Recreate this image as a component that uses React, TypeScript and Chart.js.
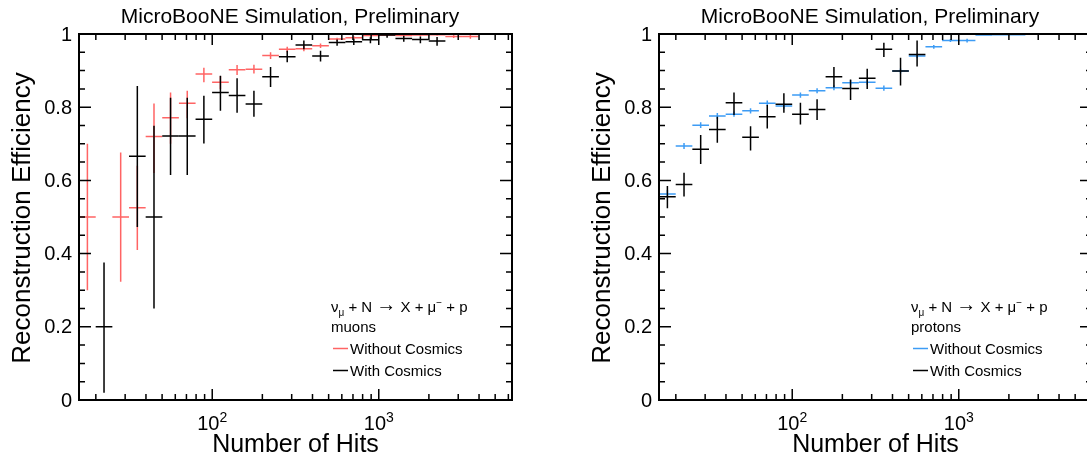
import React, { useEffect, useRef } from 'react';
import { Chart, registerables } from 'chart.js';

Chart.register(...registerables);

const FONT = '"Liberation Sans", Arial, Helvetica, sans-serif';

// Bin centres in number of hits (logarithmic bins, 0.1 decade wide)
const hitBins = [
  17.8, 22.4, 28.2, 35.5, 44.7, 56.2, 70.8, 89.1, 112, 141, 178, 224, 282,
  355, 447, 562, 708, 891, 1122, 1413, 1778, 2239, 2818, 3548, 4467, 5623,
];

// Muons, without cosmics
const muonEffNoCosmics = [
  0.5, null, 0.5, 0.525, 0.72, 0.771, 0.811, 0.891, 0.868, 0.902, 0.904, 0.941, 0.958,
  0.96, 0.968, 0.986, 0.99, 0.996, 0.997, 0.996, 0.997, 0.998, 0.993, 0.993, null, null,
];
const muonLoNoCosmics = [
  0.3, null, 0.323, 0.41, 0.62, 0.7, 0.77, 0.868, 0.85, 0.888, 0.892, 0.932, 0.95,
  0.953, 0.962, 0.981, 0.986, 0.993, 0.994, 0.993, 0.994, 0.995, 0.989, 0.987, null, null,
];
const muonHiNoCosmics = [
  0.7, null, 0.676, 0.64, 0.81, 0.84, 0.845, 0.908, 0.885, 0.915, 0.916, 0.95, 0.965,
  0.967, 0.974, 0.99, 0.994, 0.998, 0.999, 0.998, 0.999, 1.0, 0.997, 0.997, null, null,
];

// Muons, with cosmics
const muonEffWithCosmics = [
  null, 0.2, null, 0.666, 0.5, 0.721, 0.721, 0.767, 0.84, 0.832, 0.809, 0.883, 0.938,
  0.97, 0.94, 0.977, 0.979, 0.984, 0.997, 0.988, 0.985, 0.981, 1.0, 1.0, 1.0, 1.0,
];
const muonLoWithCosmics = [
  null, 0.02, null, 0.473, 0.25, 0.615, 0.615, 0.701, 0.79, 0.785, 0.774, 0.855, 0.923,
  0.958, 0.925, 0.968, 0.97, 0.975, 0.99, 0.979, 0.975, 0.968, 1.0, 1.0, 1.0, 1.0,
];
const muonHiWithCosmics = [
  null, 0.376, null, 0.858, 0.749, 0.826, 0.826, 0.831, 0.886, 0.879, 0.845, 0.91, 0.954,
  0.982, 0.954, 0.985, 0.987, 0.991, 1.0, 0.995, 0.993, 0.992, 1.0, 1.0, 1.0, 1.0,
];

// Protons, without cosmics
const protonEffNoCosmics = [
  0.563, 0.694, 0.751, 0.776, 0.781, 0.79, 0.811, 0.803, 0.833, 0.845, 0.853, 0.867, 0.868,
  0.852, 0.899, 0.94, 0.965, 0.982, 0.982, 0.997, 0.998, 0.998, null, null, null, null,
];
const protonLoNoCosmics = [
  0.552, 0.686, 0.743, 0.768, 0.774, 0.783, 0.804, 0.796, 0.826, 0.838, 0.846, 0.86, 0.861,
  0.845, 0.892, 0.934, 0.96, 0.978, 0.977, 0.995, 0.996, 0.996, null, null, null, null,
];
const protonHiNoCosmics = [
  0.574, 0.702, 0.759, 0.784, 0.788, 0.797, 0.818, 0.81, 0.84, 0.852, 0.86, 0.874, 0.875,
  0.859, 0.906, 0.946, 0.97, 0.986, 0.987, 0.999, 1.0, 1.0, null, null, null, null,
];

// Protons, with cosmics
const protonEffWithCosmics = [
  0.555, 0.589, 0.685, 0.739, 0.812, 0.718, 0.774, 0.808, 0.781, 0.794, 0.883, 0.851, 0.879,
  0.958, 0.899, 0.944, 1.0, 1.0, 1.0, 1.0, null, null, null, null, null, null,
];
const protonLoWithCosmics = [
  0.524, 0.556, 0.645, 0.703, 0.779, 0.682, 0.742, 0.785, 0.753, 0.765, 0.854, 0.82, 0.85,
  0.937, 0.859, 0.911, 1.0, 1.0, 1.0, 1.0, null, null, null, null, null, null,
];
const protonHiWithCosmics = [
  0.585, 0.621, 0.724, 0.774, 0.84, 0.748, 0.806, 0.838, 0.812, 0.822, 0.91, 0.876, 0.905,
  0.976, 0.935, 0.982, 1.0, 1.0, 1.0, 1.0, null, null, null, null, null, null,
];

// Axis ticks and labels
const yMajorTicks = [0, 0.2, 0.4, 0.6, 0.8, 1];
const yTickLabels = ['0', '0.2', '0.4', '0.6', '0.8', '1'];
const xMajorTicks = [100, 1000];
const xTickExponents = ['2', '3'];

const TITLE = 'MicroBooNE Simulation, Preliminary';
const X_TITLE = 'Number of Hits';
const Y_TITLE = 'Reconstruction Efficiency';
const LABEL_NO = 'Without Cosmics';
const LABEL_WITH = 'With Cosmics';

const X_MIN = Math.pow(10, 1.2);
const X_MAX = Math.pow(10, 3.8);
const BIN_HALF = Math.pow(10, 0.05);

const RED = '#ff6464';
const BLUE = '#3d9cf5';
const BLACK = '#000000';

type Series = (number | null)[];

function buildPoints(eff: Series, lo: Series, hi: Series) {
  const pts: any[] = [];
  hitBins.forEach((x, i) => {
    const y = eff[i];
    if (y == null) return;
    pts.push({ x, y, yMin: lo[i] ?? y, yMax: hi[i] ?? y });
  });
  return pts;
}

type PanelSpec = {
  particle: string;
  colorNo: string;
  effNo: Series; loNo: Series; hiNo: Series;
  effWith: Series; loWith: Series; hiWith: Series;
};

// ν_μ + N → X + μ⁻ + p, with sub/superscripts
function drawReaction(ctx: CanvasRenderingContext2D, x: number, y: number) {
  const big = `15px ${FONT}`;
  const small = `10px ${FONT}`;
  const arrow = `20px ${FONT}`;
  const parts: [string, string, number][] = [
    ['ν', big, 0],
    ['μ', small, 4],
    [' + N ', big, 0],
    ['→', arrow, -1],
    [' X + μ', big, 0],
    ['−', small, -6],
    [' + p', big, 0],
  ];
  let cx = x;
  parts.forEach(([t, f, dy]) => {
    ctx.font = f;
    ctx.fillText(t, cx, y + dy);
    cx += ctx.measureText(t).width;
  });
}

function rootStylePlugin(spec: PanelSpec) {
  return {
    id: 'rootStyle',
    afterDatasetsDraw(chart: any) {
      const ctx: CanvasRenderingContext2D = chart.ctx;
      const { left, right, top, bottom } = chart.chartArea;
      const xs = chart.scales.x;
      const ys = chart.scales.y;

      // error bars: horizontal across the bin, vertical for the efficiency interval
      chart.data.datasets.forEach((ds: any) => {
        ctx.save();
        ctx.strokeStyle = ds.borderColor;
        ctx.lineWidth = 1.5;
        ds.data.forEach((p: any) => {
          const cx = xs.getPixelForValue(p.x);
          const x0 = xs.getPixelForValue(p.x / BIN_HALF);
          const x1 = xs.getPixelForValue(p.x * BIN_HALF);
          const cy = ys.getPixelForValue(p.y);
          ctx.beginPath();
          ctx.moveTo(x0, cy);
          ctx.lineTo(x1, cy);
          ctx.moveTo(cx, ys.getPixelForValue(p.yMin));
          ctx.lineTo(cx, ys.getPixelForValue(p.yMax));
          ctx.stroke();
        });
        ctx.restore();
      });

      ctx.save();
      ctx.strokeStyle = BLACK;
      ctx.fillStyle = BLACK;

      // frame
      ctx.lineWidth = 2;
      ctx.strokeRect(left, top, right - left, bottom - top);

      // y ticks, left and right
      ctx.lineWidth = 1.5;
      ctx.beginPath();
      for (let k = 0; k <= 20; k++) {
        const v = k * 0.05;
        const py = ys.getPixelForValue(v);
        const len = k % 4 === 0 ? 12 : 6;
        ctx.moveTo(left, py);
        ctx.lineTo(left + len, py);
        ctx.moveTo(right, py);
        ctx.lineTo(right - len, py);
      }
      // x ticks, bottom and top
      for (let d = 10; d <= 1000; d *= 10) {
        for (let m = 1; m <= 9; m++) {
          const v = m * d;
          if (v < X_MIN || v > X_MAX) continue;
          const px = xs.getPixelForValue(v);
          const len = m === 1 ? 11 : 6;
          ctx.moveTo(px, bottom);
          ctx.lineTo(px, bottom - len);
          ctx.moveTo(px, top);
          ctx.lineTo(px, top + len);
        }
      }
      ctx.stroke();

      // y tick labels
      ctx.font = `20px ${FONT}`;
      ctx.textAlign = 'right';
      ctx.textBaseline = 'middle';
      yMajorTicks.forEach((v, i) => {
        ctx.fillText(yTickLabels[i], left - 7, ys.getPixelForValue(v) + 1);
      });

      // x tick labels: 10 with superscript exponent
      ctx.textBaseline = 'alphabetic';
      ctx.textAlign = 'left';
      xMajorTicks.forEach((v, i) => {
        const px = xs.getPixelForValue(v);
        ctx.font = `20px ${FONT}`;
        const wBase = ctx.measureText('10').width;
        ctx.font = `14px ${FONT}`;
        const wExp = ctx.measureText(xTickExponents[i]).width;
        const x0 = px - (wBase + wExp) / 2;
        ctx.font = `20px ${FONT}`;
        ctx.fillText('10', x0, 430);
        ctx.font = `14px ${FONT}`;
        ctx.fillText(xTickExponents[i], x0 + wBase, 422);
      });

      // titles
      ctx.textAlign = 'center';
      ctx.font = `21px ${FONT}`;
      ctx.fillText(TITLE, chart.width / 2, 23);

      ctx.font = `25px ${FONT}`;
      ctx.fillText(X_TITLE, (left + right) / 2, 452);

      ctx.save();
      ctx.translate(30, (top + bottom) / 2 + 1);
      ctx.rotate(-Math.PI / 2);
      ctx.font = `26px ${FONT}`;
      ctx.fillText(Y_TITLE, 0, 0);
      ctx.restore();

      // legend
      const lx = left + 252;
      ctx.textAlign = 'left';
      drawReaction(ctx, lx, 312);
      ctx.font = `15px ${FONT}`;
      ctx.fillText(spec.particle, lx, 332);
      ctx.fillText(LABEL_NO, lx + 19, 354);
      ctx.fillText(LABEL_WITH, lx + 19, 376);
      ctx.lineWidth = 1.5;
      ctx.strokeStyle = spec.colorNo;
      ctx.beginPath();
      ctx.moveTo(lx + 2, 348.5);
      ctx.lineTo(lx + 17, 348.5);
      ctx.stroke();
      ctx.strokeStyle = BLACK;
      ctx.beginPath();
      ctx.moveTo(lx + 2, 370.5);
      ctx.lineTo(lx + 17, 370.5);
      ctx.stroke();

      ctx.restore();
    },
  };
}

function Panel({ spec, offset }: { spec: PanelSpec; offset: number }) {
  const ref = useRef<HTMLCanvasElement>(null);
  useEffect(() => {
    const chart = new Chart(ref.current as HTMLCanvasElement, {
      type: 'scatter',
      data: {
        datasets: [
          {
            label: LABEL_NO,
            data: buildPoints(spec.effNo, spec.loNo, spec.hiNo),
            borderColor: spec.colorNo,
            backgroundColor: spec.colorNo,
            pointRadius: 0,
            showLine: false,
          },
          {
            label: LABEL_WITH,
            data: buildPoints(spec.effWith, spec.loWith, spec.hiWith),
            borderColor: BLACK,
            backgroundColor: BLACK,
            pointRadius: 0,
            showLine: false,
          },
        ],
      },
      options: {
        animation: false,
        responsive: false,
        maintainAspectRatio: false,
        devicePixelRatio: 1,
        layout: { padding: { left: 79, right: 68, top: 34, bottom: 61 } },
        scales: {
          x: { type: 'logarithmic', min: X_MIN, max: X_MAX, bounds: 'data', display: false },
          y: { type: 'linear', min: 0, max: 1, bounds: 'data', display: false },
        },
        plugins: { legend: { display: false }, tooltip: { enabled: false } },
        events: [],
      },
      plugins: [rootStylePlugin(spec)],
    } as any);
    return () => chart.destroy();
  }, [spec]);
  return (
    <canvas
      ref={ref}
      width={580}
      height={461}
      style={{ position: 'absolute', left: offset, top: 0, width: 580, height: 461 }}
    />
  );
}

const muonSpec: PanelSpec = {
  particle: 'muons',
  colorNo: RED,
  effNo: muonEffNoCosmics, loNo: muonLoNoCosmics, hiNo: muonHiNoCosmics,
  effWith: muonEffWithCosmics, loWith: muonLoWithCosmics, hiWith: muonHiWithCosmics,
};

const protonSpec: PanelSpec = {
  particle: 'protons',
  colorNo: BLUE,
  effNo: protonEffNoCosmics, loNo: protonLoNoCosmics, hiNo: protonHiNoCosmics,
  effWith: protonEffWithCosmics, loWith: protonLoWithCosmics, hiWith: protonHiWithCosmics,
};

export default function App() {
  return (
    <div
      style={{
        position: 'fixed',
        left: 0,
        top: 0,
        width: 1087,
        height: 461,
        overflow: 'hidden',
        background: '#ffffff',
      }}
    >
      <Panel spec={muonSpec} offset={0} />
      <Panel spec={protonSpec} offset={580} />
    </div>
  );
}
